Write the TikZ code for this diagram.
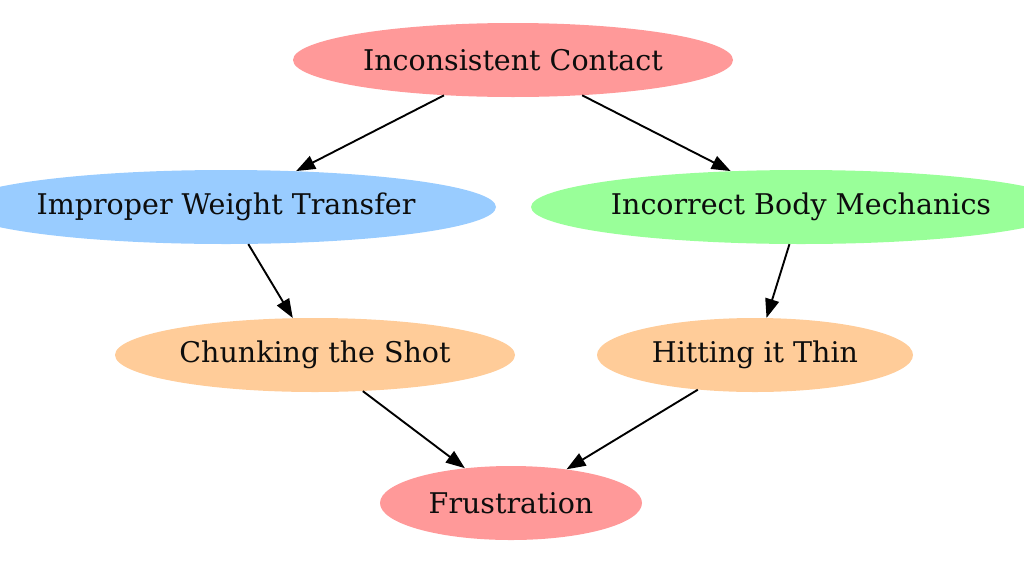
\documentclass[tikz,border=0pt]{standalone}
\usepackage{fontspec}
\setmainfont{DejaVu Serif}
\usetikzlibrary{shapes.geometric}
\usetikzlibrary{arrows.meta}

\definecolor{pinkfill}{HTML}{FF9999}
\definecolor{bluefill}{HTML}{99CCFF}
\definecolor{greenfill}{HTML}{99FF99}
\definecolor{peachfill}{HTML}{FFCC99}

\tikzset{
  blob/.style={ellipse, inner sep=0pt, minimum height=74, text=black!95,
    font=\fontsize{28.5}{33}\selectfont},
  link/.style={line width=1.9pt, -{Triangle[length=19pt, width=14pt]}}
}

\begin{document}
\begin{tikzpicture}[x=1pt, y=-1pt]
            \useasboundingbox (0, 0) rectangle (1024, 576);

            %%%%%%%%
            % top
            %%%%%%%%
            \node[blob, fill=pinkfill, minimum width=440] (contact) at (513, 60) {Inconsistent Contact};

            %%%%%%%%
            % causes
            %%%%%%%%
            \node[blob, fill=bluefill, minimum width=540] (weight) at (226, 207) {Improper Weight Transfer};
            \node[blob, fill=greenfill, minimum width=540] (body) at (801, 207) {Incorrect Body Mechanics};

            %%%%%%%%
            % results
            %%%%%%%%
            \node[blob, fill=peachfill, minimum width=400] (chunk) at (315, 355) {Chunking the Shot};
            \node[blob, fill=peachfill, minimum width=316] (thin) at (755, 355) {Hitting it Thin};
            \node[blob, fill=pinkfill, minimum width=262] (frust) at (511, 503) {Frustration};

            % draw edges
            \draw[link] (contact) -- (weight);
            \draw[link] (contact) -- (body);
            \draw[link] (weight) -- (chunk);
            \draw[link] (body) -- (thin);
            \draw[link] (chunk) -- (frust);
            \draw[link] (thin) -- (frust);
\end{tikzpicture}
\end{document}
